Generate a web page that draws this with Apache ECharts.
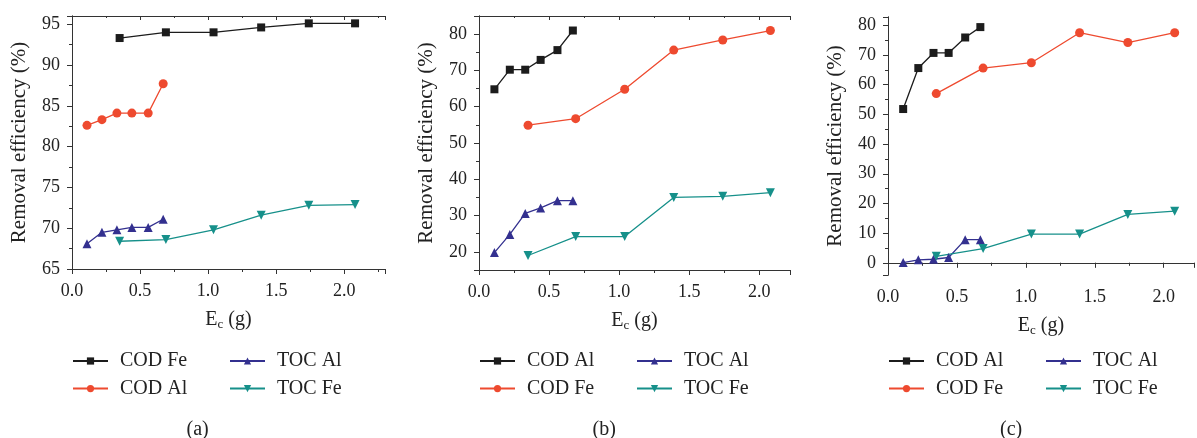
<!DOCTYPE html>
<html>
<head>
<meta charset="utf-8">
<script src="https://cdn.jsdelivr.net/npm/echarts@6/dist/echarts.min.js"></script>
<style>
  html, body { margin: 0; padding: 0; background: #fff; }
  #main { width: 1197px; height: 438px; }
</style>
</head>
<body>
<div id="main"></div>
<script>
// E_c values (g)
var xShort = [0.11, 0.22, 0.33, 0.44, 0.56, 0.67];
var xLong = [0.35, 0.69, 1.04, 1.39, 1.74, 2.08];

// panel (a)
var aCodFe = [93.3, 94.0, 94.0, 94.6, 95.1, 95.1];
var aCodAl = [82.6, 83.3, 84.1, 84.1, 84.1, 87.7];
var aTocAl = [68.1, 69.5, 69.8, 70.1, 70.1, 71.1];
var aTocFe = [68.4, 68.6, 69.8, 71.6, 72.8, 72.9];

// panel (b)
var bCodAl = [64.8, 70.2, 70.2, 72.9, 75.6, 81.0];
var bCodFe = [54.9, 56.7, 64.8, 75.6, 78.4, 81.0];
var bTocAl = [19.8, 24.8, 30.6, 32.1, 34.1, 34.1];
var bTocFe = [19.0, 24.2, 24.2, 35.0, 35.3, 36.3];

// panel (c)
var cCodAl = [51.8, 65.6, 70.7, 70.7, 75.9, 79.4];
var cCodFe = [57.0, 65.6, 67.4, 77.5, 74.2, 77.5];
var cTocAl = [0.1, 1.0, 1.2, 1.8, 7.8, 7.8];
var cTocFe = [2.2, 4.8, 9.7, 9.7, 16.3, 17.4];

var BLACK = '#1c1c1c', RED = '#ee4a2f', NAVY = '#33308f', TEAL = '#16908a';
var FONT = '"Liberation Serif", "DejaVu Serif", serif';

function pairs(xs, ys) {
    return ys.map(function (v, i) { return [xs[i], v]; });
}

var panels = [
    {
        tag: 'a', grid: {left: 72, right: 812, top: 16, bottom: 169},
        xMax: 2.3, yMin: 65, yMax: 96, yStep: 5,
        series: [
            {name: 'COD Fe', x: xLong, y: aCodFe, color: BLACK, symbol: 'rect'},
            {name: 'TOC Al', x: xShort, y: aTocAl, color: NAVY, symbol: 'triangle'},
            {name: 'COD Al', x: xShort, y: aCodAl, color: RED, symbol: 'circle'},
            {name: 'TOC Fe', x: xLong, y: aTocFe, color: TEAL, symbol: 'down'}
        ]
    },
    {
        tag: 'b', grid: {left: 479, right: 407, top: 16, bottom: 168},
        xMax: 2.22, yMin: 15, yMax: 85, yStep: 10,
        series: [
            {name: 'COD Al', x: xShort, y: bCodAl, color: BLACK, symbol: 'rect'},
            {name: 'TOC Al', x: xShort, y: bTocAl, color: NAVY, symbol: 'triangle'},
            {name: 'COD Fe', x: xLong, y: bCodFe, color: RED, symbol: 'circle'},
            {name: 'TOC Fe', x: xLong, y: bTocFe, color: TEAL, symbol: 'down'}
        ]
    },
    {
        tag: 'c', grid: {left: 888, right: 1, top: 17, bottom: 163},
        xMax: 2.22, yMin: -4.1, yMax: 82.8, yStep: 10,
        series: [
            {name: 'COD Al', x: xShort, y: cCodAl, color: BLACK, symbol: 'rect'},
            {name: 'TOC Al', x: xShort, y: cTocAl, color: NAVY, symbol: 'triangle'},
            {name: 'COD Fe', x: xLong, y: cCodFe, color: RED, symbol: 'circle'},
            {name: 'TOC Fe', x: xLong, y: cTocFe, color: TEAL, symbol: 'down'}
        ]
    }
];

var option = {
    animation: false,
    backgroundColor: '#fff',
    textStyle: {fontFamily: FONT},
    grid: [], xAxis: [], yAxis: [], series: [], legend: [], graphic: []
};

var axisLine = {show: true, lineStyle: {color: '#333', width: 1}};

panels.forEach(function (p, i) {
    option.grid.push(p.grid);
    var step = p.yStep;
    var base = {
        gridIndex: i, type: 'value', min: 0, max: p.xMax,
        minInterval: 0.5, maxInterval: 0.5, splitNumber: 5,
        axisLine: axisLine, splitLine: {show: false}
    };
    // bottom x axis
    option.xAxis.push(Object.assign({}, base, {
        position: 'bottom',
        name: 'E{sub|c} (g)', nameLocation: 'middle', nameGap: 40,
        nameTextStyle: {
            fontSize: 20, color: '#222', fontFamily: FONT,
            rich: {sub: {fontSize: 13, padding: [9, 0, 0, 0], fontFamily: FONT, color: '#222'}}
        },
        axisTick: {show: true, inside: false, length: 5, lineStyle: {color: '#333'}},
        minorTick: {show: true, splitNumber: 2, length: 3, lineStyle: {color: '#333'}},
        axisLabel: {
            fontSize: 18, color: '#222', margin: 13, fontFamily: FONT,
            formatter: function (v) {
                return Math.abs(v * 2 - Math.round(v * 2)) < 1e-6 ? v.toFixed(1) : '';
            }
        }
    }));
    // top frame
    option.xAxis.push(Object.assign({}, base, {
        position: 'top',
        axisTick: {show: true, inside: true, length: 4, lineStyle: {color: '#333'}},
        minorTick: {show: true, splitNumber: 2, length: 2, lineStyle: {color: '#333'}},
        axisLabel: {show: false}
    }));
    var yBase = {
        gridIndex: i, type: 'value', min: p.yMin, max: p.yMax,
        minInterval: step, maxInterval: step, splitNumber: 8,
        axisLine: axisLine, splitLine: {show: false}
    };
    option.yAxis.push(Object.assign({}, yBase, {
        position: 'left',
        name: 'Removal efficiency (%)', nameLocation: 'middle', nameGap: 42,
        nameTextStyle: {fontSize: 21, color: '#222', fontFamily: FONT},
        axisTick: {show: true, inside: false, length: 5, lineStyle: {color: '#333'}},
        minorTick: {show: true, splitNumber: 2, length: 3, lineStyle: {color: '#333'}},
        axisLabel: {
            fontSize: 18, color: '#222', margin: 12, fontFamily: FONT,
            formatter: function (v) {
                return Math.abs(v / step - Math.round(v / step)) < 1e-6 ? String(Math.round(v)) : '';
            }
        }
    }));
    option.yAxis.push(Object.assign({}, yBase, {
        position: 'right',
        axisTick: {show: true, inside: true, length: 4, lineStyle: {color: '#333'}},
        minorTick: {show: true, splitNumber: 2, length: 2, lineStyle: {color: '#333'}},
        axisLabel: {show: false}
    }));

    p.series.forEach(function (s) {
        option.series.push({
            name: p.tag + ':' + s.name,
            type: 'line',
            xAxisIndex: i * 2, yAxisIndex: i * 2,
            data: pairs(s.x, s.y),
            symbol: s.symbol === 'down' ? 'triangle' : s.symbol,
            symbolRotate: s.symbol === 'down' ? 180 : 0,
            symbolSize: s.symbol === 'rect' ? 8 : 9,
            color: s.color,
            lineStyle: {width: 1.3, color: s.color},
            itemStyle: {color: s.color}
        });
    });

    var left = p.grid.left;
    var cols = [[p.series[0], p.series[2]], [p.series[1], p.series[3]]];
    cols.forEach(function (col, k) {
        option.legend.push({
            orient: 'vertical',
            left: left + k * 157, top: 351, padding: 0,
            itemWidth: 35, itemHeight: 9, itemGap: 7.6,
            data: col.map(function (s) { return p.tag + ':' + s.name; }),
            formatter: function (n) { return n.slice(2); },
            textStyle: {fontSize: 20, color: '#222', lineHeight: 20, fontFamily: FONT, padding: [0, 0, 0, 7]},
            selectedMode: false
        });
    });

    var mid = p.grid.left + (1197 - p.grid.right - p.grid.left) / 2;
    option.graphic.push({
        type: 'text', left: mid - 30 - 12, top: 420,
        style: {text: '(' + p.tag + ')', fontSize: 20, fontFamily: FONT, fill: '#222'}
    });
});

var myChart = echarts.init(document.getElementById('main'));
myChart.setOption(option);
</script>
</body>
</html>
